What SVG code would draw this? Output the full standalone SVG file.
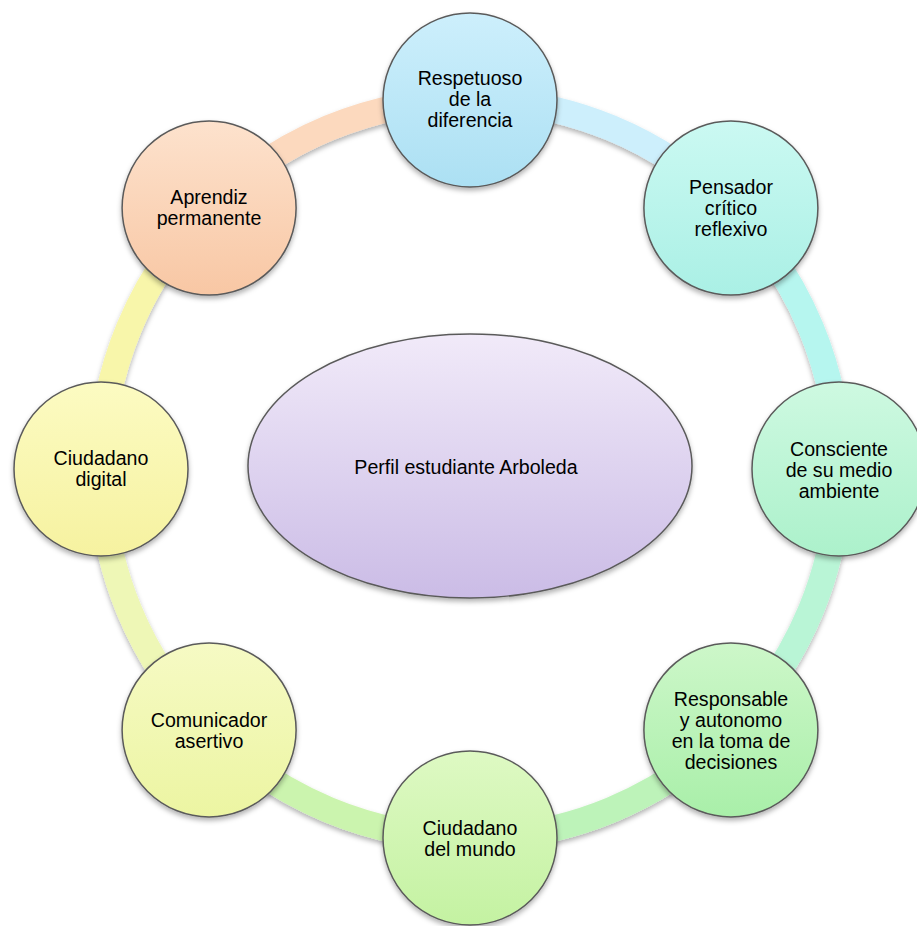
<svg xmlns="http://www.w3.org/2000/svg" width="917" height="926" viewBox="0 0 917 926">
<style>
.band{fill:none;stroke-width:26;filter:url(#sh)}
.node{stroke:#5a5a5a;stroke-width:1.5;filter:url(#sh)}
.lbl{font-family:"Liberation Sans",Arial,sans-serif;font-size:19.6px;fill:#000;text-anchor:middle}
</style>
<defs>
<filter id="sh" x="-20%" y="-20%" width="140%" height="140%">
<feDropShadow dx="0" dy="3" stdDeviation="2.5" flood-color="#000" flood-opacity="0.3"/>
</filter>
<linearGradient id="gC" x1="0" y1="0" x2="0" y2="1"><stop offset="0" stop-color="#f1eaf9"/><stop offset="1" stop-color="#cbbce6"/></linearGradient>
<linearGradient id="g0" x1="0" y1="0" x2="0" y2="1"><stop offset="0" stop-color="#cdeffc"/><stop offset="1" stop-color="#ace0f3"/></linearGradient>
<linearGradient id="g1" x1="0" y1="0" x2="0" y2="1"><stop offset="0" stop-color="#cbf9f2"/><stop offset="1" stop-color="#aaf0e5"/></linearGradient>
<linearGradient id="g2" x1="0" y1="0" x2="0" y2="1"><stop offset="0" stop-color="#cef9e1"/><stop offset="1" stop-color="#acf1cb"/></linearGradient>
<linearGradient id="g3" x1="0" y1="0" x2="0" y2="1"><stop offset="0" stop-color="#cdf7c9"/><stop offset="1" stop-color="#a9efa9"/></linearGradient>
<linearGradient id="g4" x1="0" y1="0" x2="0" y2="1"><stop offset="0" stop-color="#def9c3"/><stop offset="1" stop-color="#c4f2a2"/></linearGradient>
<linearGradient id="g5" x1="0" y1="0" x2="0" y2="1"><stop offset="0" stop-color="#f6fac4"/><stop offset="1" stop-color="#ecf5a2"/></linearGradient>
<linearGradient id="g6" x1="0" y1="0" x2="0" y2="1"><stop offset="0" stop-color="#fcfbc2"/><stop offset="1" stop-color="#f6f2a0"/></linearGradient>
<linearGradient id="g7" x1="0" y1="0" x2="0" y2="1"><stop offset="0" stop-color="#fde2cd"/><stop offset="1" stop-color="#f8c7a4"/></linearGradient>
</defs>
<rect width="917" height="926" fill="#fff"/>
<g id="connectors">
<path class="band" stroke="#cdeffc" d="M470,100 A369,369 0 0 1 730.9,208.1"/>
<path class="band" stroke="#b6f6ef" d="M730.9,208.1 A369,369 0 0 1 839,469"/>
<path class="band" stroke="#b9f5d6" d="M839,469 A369,369 0 0 1 730.9,729.9"/>
<path class="band" stroke="#bdf3b9" d="M730.9,729.9 A369,369 0 0 1 470,838"/>
<path class="band" stroke="#cbf4ae" d="M470,838 A369,369 0 0 1 209.1,729.9"/>
<path class="band" stroke="#eef7b6" d="M209.1,729.9 A369,369 0 0 1 101,469"/>
<path class="band" stroke="#f8f6aa" d="M101,469 A369,369 0 0 1 209.1,208.1"/>
<path class="band" stroke="#fcd9be" d="M209.1,208.1 A369,369 0 0 1 470,100"/>
</g>
<g id="center">
<ellipse class="node" cx="470" cy="466" rx="222" ry="132" fill="url(#gC)"/>
<text class="lbl" x="466" y="474">Perfil estudiante Arboleda</text>
</g>
<g id="n0">
<circle class="node" cx="470" cy="100" r="87" fill="url(#g0)"/>
<text class="lbl" x="470" y="85">Respetuoso</text>
<text class="lbl" x="470" y="106">de la</text>
<text class="lbl" x="470" y="127">diferencia</text>
</g>
<g id="n1">
<circle class="node" cx="730.9" cy="208.1" r="87" fill="url(#g1)"/>
<text class="lbl" x="731" y="194">Pensador</text>
<text class="lbl" x="731" y="215">crítico</text>
<text class="lbl" x="731" y="236">reflexivo</text>
</g>
<g id="n2">
<circle class="node" cx="839" cy="469" r="87" fill="url(#g2)"/>
<text class="lbl" x="839" y="456">Consciente</text>
<text class="lbl" x="839" y="477">de su medio</text>
<text class="lbl" x="839" y="498">ambiente</text>
</g>
<g id="n3">
<circle class="node" cx="730.9" cy="729.9" r="87" fill="url(#g3)"/>
<text class="lbl" x="731" y="706">Responsable</text>
<text class="lbl" x="731" y="727">y autonomo</text>
<text class="lbl" x="731" y="748">en la toma de</text>
<text class="lbl" x="731" y="769">decisiones</text>
</g>
<g id="n4">
<circle class="node" cx="470" cy="838" r="87" fill="url(#g4)"/>
<text class="lbl" x="470" y="835">Ciudadano</text>
<text class="lbl" x="470" y="856">del mundo</text>
</g>
<g id="n5">
<circle class="node" cx="209.1" cy="729.9" r="87" fill="url(#g5)"/>
<text class="lbl" x="209" y="727">Comunicador</text>
<text class="lbl" x="209" y="748">asertivo</text>
</g>
<g id="n6">
<circle class="node" cx="101" cy="469" r="87" fill="url(#g6)"/>
<text class="lbl" x="101" y="465">Ciudadano</text>
<text class="lbl" x="101" y="486">digital</text>
</g>
<g id="n7">
<circle class="node" cx="209.1" cy="208.1" r="87" fill="url(#g7)"/>
<text class="lbl" x="209" y="204">Aprendiz</text>
<text class="lbl" x="209" y="225">permanente</text>
</g>
</svg>
